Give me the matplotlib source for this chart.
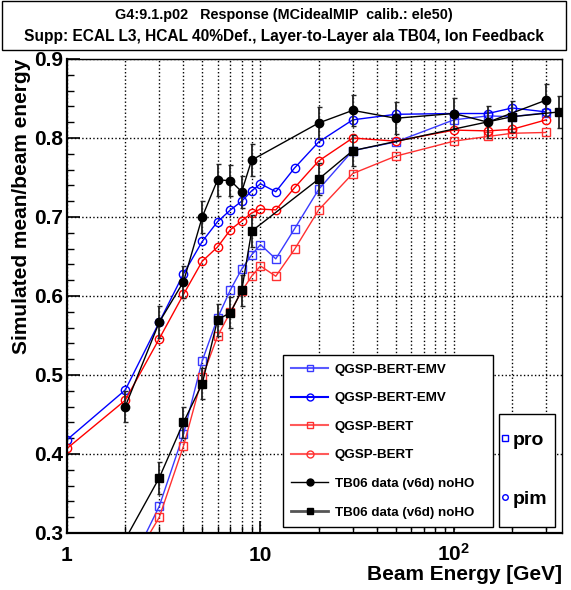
import matplotlib
matplotlib.use('Agg')
import matplotlib.pyplot as plt
from matplotlib.lines import Line2D
from matplotlib.patches import Rectangle
from matplotlib.ticker import FixedLocator, FixedFormatter, NullFormatter, MultipleLocator

plt.rcParams['font.family'] = ['Liberation Sans', 'DejaVu Sans']
plt.rcParams['font.weight'] = 'bold'
plt.rcParams['axes.labelweight'] = 'bold'
plt.rcParams['mathtext.fontset'] = 'custom'
plt.rcParams['mathtext.rm'] = 'Liberation Sans:bold'
plt.rcParams['mathtext.bf'] = 'Liberation Sans:bold'

# beam energies [GeV]
e_pro = [2, 3, 4, 5, 6, 7, 8, 9, 10, 12, 15, 20, 30, 50, 100, 150, 200, 300]
e_pim = [1, 2, 3, 4, 5, 6, 7, 8, 9, 10, 12, 15, 20, 30, 50, 100, 150, 200, 300]

# simulated mean / beam energy
emv_pro = [0.246, 0.334, 0.425, 0.518, 0.572, 0.608, 0.634, 0.652, 0.665, 0.647,
           0.685, 0.735, 0.784, 0.795, 0.823, 0.828, 0.827, 0.832]
emv_pim = [0.418, 0.481, 0.567, 0.628, 0.669, 0.694, 0.709, 0.720, 0.733, 0.742,
           0.732, 0.762, 0.795, 0.823, 0.830, 0.831, 0.831, 0.838, 0.833]
bert_pro = [0.247, 0.320, 0.410, 0.497, 0.549, 0.580, 0.606, 0.625, 0.638, 0.625,
            0.659, 0.709, 0.755, 0.777, 0.796, 0.802, 0.806, 0.807]
bert_pim = [0.407, 0.468, 0.546, 0.602, 0.644, 0.662, 0.684, 0.695, 0.705, 0.710,
            0.709, 0.737, 0.771, 0.800, 0.796, 0.810, 0.809, 0.811, 0.823]

# TB06 data
e_data_pim = [2, 3, 4, 5, 6, 7, 8, 9, 20, 30, 50, 100, 150, 300]
data_pim = [0.460, 0.567, 0.618, 0.700, 0.747, 0.746, 0.732, 0.772, 0.819, 0.835,
            0.825, 0.831, 0.820, 0.848]
err_pim = [0.02, 0.02, 0.02, 0.02, 0.02, 0.02, 0.02, 0.02, 0.02, 0.02, 0.02, 0.02, 0.02, 0.02]
e_data_pro = [2, 3, 4, 5, 6, 7, 8, 9, 20, 30, 200, 350]
data_pro = [0.292, 0.370, 0.440, 0.489, 0.570, 0.579, 0.607, 0.682, 0.748, 0.784, 0.827, 0.833]
err_pro = [0.0, 0.02, 0.02, 0.02, 0.02, 0.02, 0.02, 0.02, 0.02, 0.02, 0.02, 0.02]

fig = plt.figure(figsize=(5.71, 5.90), dpi=100)
ax = fig.add_axes([67/571, 1-533/590, 495/571, 474/590])

ax.plot(e_pro, emv_pro, c='#3a3aff', lw=1, marker='s', ms=5.5, mfc='none', mec='#3a3aff')
ax.plot(e_pim, emv_pim, c='blue', lw=1, marker='o', ms=6, mfc='none', mec='blue')
ax.plot(e_pro, bert_pro, c='#ff3030', lw=1, marker='s', ms=5.5, mfc='none', mec='#ff3030')
ax.plot(e_pim, bert_pim, c='red', lw=1, marker='o', ms=6, mfc='none', mec='red')
ax.errorbar(e_data_pim, data_pim, yerr=err_pim, c='k', lw=1, marker='o', ms=6,
            elinewidth=1.3, capsize=1.8, ecolor='#222222')
ax.errorbar(e_data_pro, data_pro, yerr=err_pro, c='k', lw=1, marker='s', ms=6,
            elinewidth=1.3, capsize=1.8, ecolor='#222222')

ax.set_xscale('log')
ax.set_xlim(1, 362)
ax.set_ylim(0.3, 0.9)

ax.xaxis.set_major_locator(FixedLocator([1, 10, 100]))
ax.xaxis.set_major_formatter(FixedFormatter(['1', '10', r'$\mathbf{10^{2}}$']))
ax.xaxis.set_minor_locator(FixedLocator([2, 3, 4, 5, 6, 7, 8, 9, 20, 30, 40, 50, 60, 70, 80, 90, 200, 300]))
ax.xaxis.set_minor_formatter(NullFormatter())
ax.yaxis.set_major_locator(MultipleLocator(0.1))
ax.yaxis.set_minor_locator(MultipleLocator(0.02))

ax.tick_params(which='both', direction='in', top=False, right=False)
ax.tick_params(which='major', length=9, width=1.2)
ax.tick_params(which='minor', length=5, width=1)
ax.tick_params(axis='y', labelsize=15, pad=3)
ax.tick_params(axis='x', labelsize=15, pad=20)
for lab in ax.get_xticklabels():
    lab.set_verticalalignment('baseline')

ax.grid(True, which='major', axis='y', ls=':', c='k', lw=1)
ax.grid(True, which='both', axis='x', ls=':', c='k', lw=1)
for s in ['left', 'bottom']:
    ax.spines[s].set_linewidth(1.6)
for s in ['top', 'right']:
    ax.spines[s].set_linewidth(1)

ax.set_xlabel('Beam Energy [GeV]', fontsize=15, fontweight='bold', loc='right')
ax.xaxis.set_label_coords(1.0, -0.068)
fig.text(22/571, 1-59/590, 'Simulated mean/beam energy', rotation=90,
         ha='center', va='top', fontsize=15)

# title box
fig.patches.append(Rectangle((2/571, 1-50/590), 564/571, 49/590, transform=fig.transFigure,
                             fill=True, facecolor='white', edgecolor='k', lw=1, zorder=5))
fig.text(284/571, 1-15/590, 'G4:9.1.p02   Response (MCidealMIP  calib.: ele50)',
         ha='center', va='center', fontsize=10.4, zorder=6)
fig.text(284/571, 1-37/590, 'Supp: ECAL L3, HCAL 40%Def., Layer-to-Layer ala TB04, Ion Feedback',
         ha='center', va='center', fontsize=11.2, zorder=6)

# legends
handles = [
    Line2D([], [], c='#5a5aff', lw=1.5, marker='s', ms=5, mfc='none', mec='#3a3aff'),
    Line2D([], [], c='blue', lw=1.5, marker='o', ms=5, mfc='none', mec='blue'),
    Line2D([], [], c='#ff5a5a', lw=1.5, marker='s', ms=5, mfc='none', mec='#ff3030'),
    Line2D([], [], c='#ff5a5a', lw=1.5, marker='o', ms=5, mfc='none', mec='#ff3030'),
    Line2D([], [], c='k', lw=1, marker='o', ms=5, mfc='k', mec='k'),
    Line2D([], [], c='#555555', lw=2, marker='s', ms=5, mfc='k', mec='k'),
]
labels = ['QGSP-BERT-EMV', 'QGSP-BERT-EMV', 'QGSP-BERT', 'QGSP-BERT',
          'TB06 data (v6d) noHO', 'TB06 data (v6d) noHO']
leg1 = ax.legend(handles, labels, loc='lower left', bbox_to_anchor=(0.436, 0.0127, 0.425, 0.36),
                 mode='expand', fontsize=9.6, labelspacing=1.22, handlelength=2.75,
                 handletextpad=0.5, borderpad=0.63, borderaxespad=0, fancybox=False,
                 framealpha=1, edgecolor='k')
leg1.get_frame().set_linewidth(1)
ax.add_artist(leg1)

ax.add_patch(Rectangle((0.8727, 0.0127), 0.1131, 0.2384, transform=ax.transAxes,
                       facecolor='white', edgecolor='k', lw=1, zorder=4))
h2 = [Line2D([], [], ls='none', marker='s', ms=4, mfc='none', mec='blue'),
      Line2D([], [], ls='none', marker='o', ms=4, mfc='none', mec='blue')]
leg2 = ax.legend(h2, ['pro', 'pim'], loc='center left', bbox_to_anchor=(0.8727, 0.134),
                 fontsize=14, labelspacing=2.12, handlelength=0.6, handletextpad=0.1,
                 borderpad=0, borderaxespad=0, frameon=False)
leg2.set_zorder(6)

fig.savefig('out.png', dpi=100)
